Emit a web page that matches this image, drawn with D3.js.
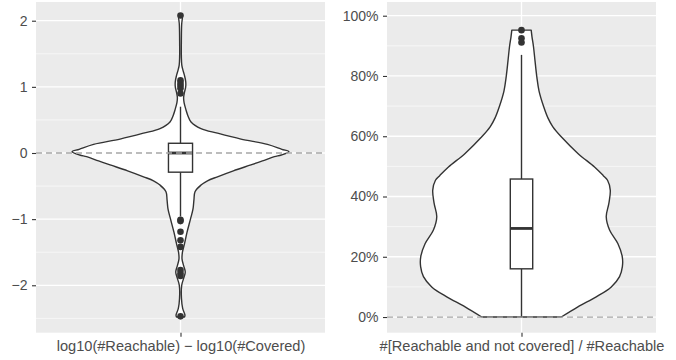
<!DOCTYPE html>
<html>
<head>
<meta charset="utf-8">
<script src="https://cdn.jsdelivr.net/npm/d3@7"></script>
<style>
  html, body { margin: 0; padding: 0; background: #ffffff; }
  svg { display: block; }
  text { font-family: "Liberation Sans", Arial, Helvetica, sans-serif; }
</style>
</head>
<body>
<svg id="chart" width="676" height="360"></svg>
<script>
// ---------- data ----------
// Left panel: log10(#Reachable) - log10(#Covered)
const leftLabel = "log10(#Reachable) \u2212 log10(#Covered)";
const leftTicks = [-2, -1, 0, 1, 2];
const leftTickLabels = ["\u22122", "\u22121", "0", "1", "2"];
const leftMinor = [-2.5, -1.5, -0.5, 0.5, 1.5];
// violin outline: value and relative density (1 = widest)
const leftDensityY = [2.10, 2.05, 1.95, 1.70, 1.45, 1.33, 1.25, 1.17, 1.08, 1.00, 0.92, 0.84, 0.76, 0.65, 0.56, 0.47, 0.37, 0.30, 0.21, 0.13, 0.056, 0.02, -0.03, -0.056, -0.12, -0.18, -0.27, -0.36, -0.42, -0.485, -0.586, -0.71, -0.85, -1.0, -1.2, -1.37, -1.5, -1.6, -1.7, -1.8, -1.9, -2.0, -2.2, -2.35, -2.45, -2.48];
const leftDensity = [0.011, 0.017, 0.011, 0.008, 0.008, 0.012, 0.023, 0.037, 0.048, 0.048, 0.037, 0.029, 0.033, 0.051, 0.069, 0.097, 0.189, 0.341, 0.558, 0.802, 0.935, 1.000, 0.930, 0.866, 0.756, 0.650, 0.488, 0.341, 0.249, 0.189, 0.134, 0.124, 0.115, 0.092, 0.060, 0.037, 0.018, 0.014, 0.028, 0.044, 0.028, 0.011, 0.009, 0.020, 0.041, 0.037];
// box summary: lower whisker, Q1, median, Q3, upper whisker
const leftBox = [-0.96, -0.29, 0.0, 0.147, 0.70];
const leftOutliers = [2.08, 1.10, 1.06, 1.02, 0.98, 0.90, -1.01, -1.03, -1.19, -1.32, -1.42, -1.77, -1.82, -1.86, -2.47];

// Right panel: share of reachable items that are not covered
const rightLabel = "#[Reachable and not covered] / #Reachable";
const rightTicks = [0, 0.2, 0.4, 0.6, 0.8, 1.0];
const rightTickLabels = ["0%", "20%", "40%", "60%", "80%", "100%"];
const rightMinor = [0.1, 0.3, 0.5, 0.7, 0.9];
const rightDensityY = [0.952, 0.93, 0.897, 0.85, 0.797, 0.75, 0.697, 0.66, 0.631, 0.598, 0.543, 0.498, 0.47, 0.454, 0.421, 0.377, 0.333, 0.289, 0.244, 0.20, 0.167, 0.134, 0.10, 0.067, 0.034, 0.0];
const rightDensity = [0.096, 0.104, 0.119, 0.134, 0.152, 0.174, 0.221, 0.263, 0.311, 0.394, 0.559, 0.724, 0.809, 0.853, 0.880, 0.866, 0.840, 0.873, 0.955, 0.999, 1.000, 0.972, 0.890, 0.741, 0.559, 0.394];
const rightBox = [0.0, 0.16, 0.294, 0.458, 0.87];
const rightOutliers = [0.952, 0.925, 0.911];

// ---------- drawing ----------
const svg = d3.select("#chart");
const ink = "#333333";

function panel(cfg) {
  const g = svg.append("g");
  const x = d3.scalePoint().domain([cfg.label]).range([cfg.left, cfg.right]).padding(0.5);
  const y = d3.scaleLinear().domain(cfg.domain).range([cfg.bottom, cfg.top]);
  const unit = (cfg.right - cfg.left) / 1.2;   // width of one discrete step
  const cx = x(cfg.label);

  // background
  g.append("rect")
    .attr("x", cfg.left).attr("y", cfg.top)
    .attr("width", cfg.right - cfg.left).attr("height", cfg.bottom - cfg.top)
    .attr("fill", "#EBEBEB");

  // grid
  g.selectAll(".minor").data(cfg.minor).join("line")
    .attr("x1", cfg.left).attr("x2", cfg.right)
    .attr("y1", d => y(d)).attr("y2", d => y(d))
    .attr("stroke", "#ffffff").attr("stroke-width", 0.6);
  g.selectAll(".major").data(cfg.ticks).join("line")
    .attr("x1", cfg.left).attr("x2", cfg.right)
    .attr("y1", d => y(d)).attr("y2", d => y(d))
    .attr("stroke", "#ffffff").attr("stroke-width", 1.3);
  g.append("line")
    .attr("x1", cx).attr("x2", cx).attr("y1", cfg.top).attr("y2", cfg.bottom)
    .attr("stroke", "#ffffff").attr("stroke-width", 1.3);

  // violin
  const wScale = d3.scaleLinear().domain([0, d3.max(cfg.density)]).range([0, 0.45 * unit]);
  const pts = cfg.densityY.map((v, i) => [v, cfg.density[i]]);
  const area = d3.area()
    .y(d => y(d[0]))
    .x0(d => cx - wScale(d[1]))
    .x1(d => cx + wScale(d[1]))
    .curve(d3.curveCatmullRom.alpha(0.5));
  g.append("path")
    .datum(pts)
    .attr("d", area)
    .attr("fill", "#ffffff")
    .attr("stroke", ink)
    .attr("stroke-width", 1.4)
    .attr("stroke-linejoin", "round");

  // box plot
  const [lo, q1, med, q3, hi] = cfg.box;
  const bw = 0.1 * unit;
  g.append("line")
    .attr("x1", cx).attr("x2", cx).attr("y1", y(q3)).attr("y2", y(hi))
    .attr("stroke", ink).attr("stroke-width", 1.4);
  g.append("line")
    .attr("x1", cx).attr("x2", cx).attr("y1", y(q1)).attr("y2", y(lo))
    .attr("stroke", ink).attr("stroke-width", 1.4);
  g.append("rect")
    .attr("x", cx - bw / 2).attr("y", y(q3))
    .attr("width", bw).attr("height", y(q1) - y(q3))
    .attr("fill", "#ffffff").attr("stroke", ink).attr("stroke-width", 1.4);
  g.append("line")
    .attr("x1", cx - bw / 2).attr("x2", cx + bw / 2).attr("y1", y(med)).attr("y2", y(med))
    .attr("stroke", ink).attr("stroke-width", 2.8);
  g.selectAll(".out").data(cfg.outliers).join("circle")
    .attr("cx", cx).attr("cy", d => y(d)).attr("r", 3.3)
    .attr("fill", ink);

  // dashed reference at zero
  g.append("line")
    .attr("x1", cfg.left).attr("x2", cfg.right).attr("y1", y(0)).attr("y2", y(0))
    .attr("stroke", "#A6A6A6").attr("stroke-width", 1.3)
    .attr("stroke-dasharray", "6,4");

  // y axis
  const yAxis = d3.axisLeft(y).tickValues(cfg.ticks)
    .tickFormat((d, i) => cfg.tickLabels[i]).tickSize(4).tickPadding(4.5);
  const ya = g.append("g").attr("transform", `translate(${cfg.left},0)`).call(yAxis);
  ya.select(".domain").remove();
  ya.selectAll(".tick line").attr("stroke", ink).attr("stroke-width", 1.1);
  ya.selectAll(".tick text").attr("fill", "#4D4D4D").attr("font-size", "14px")
    .attr("font-family", '"Liberation Sans", Arial, sans-serif');

  // x axis
  const xAxis = d3.axisBottom(x).tickSize(4).tickPadding(4);
  const xa = g.append("g").attr("transform", `translate(0,${cfg.bottom})`).call(xAxis);
  xa.select(".domain").remove();
  xa.selectAll(".tick line").attr("stroke", ink).attr("stroke-width", 1.1);
  xa.selectAll(".tick text").attr("fill", "#4D4D4D").attr("font-size", "14.6px")
    .attr("font-family", '"Liberation Sans", Arial, sans-serif');
}

panel({
  label: leftLabel, left: 36, right: 325, top: 2, bottom: 332.7,
  domain: [-2.717, 2.283], ticks: leftTicks, tickLabels: leftTickLabels, minor: leftMinor,
  densityY: leftDensityY, density: leftDensity, box: leftBox, outliers: leftOutliers
});
panel({
  label: rightLabel, left: 387, right: 656, top: 2, bottom: 332.7,
  domain: [-0.052, 1.0455], ticks: rightTicks, tickLabels: rightTickLabels, minor: rightMinor,
  densityY: rightDensityY, density: rightDensity, box: rightBox, outliers: rightOutliers
});
</script>
</body>
</html>
